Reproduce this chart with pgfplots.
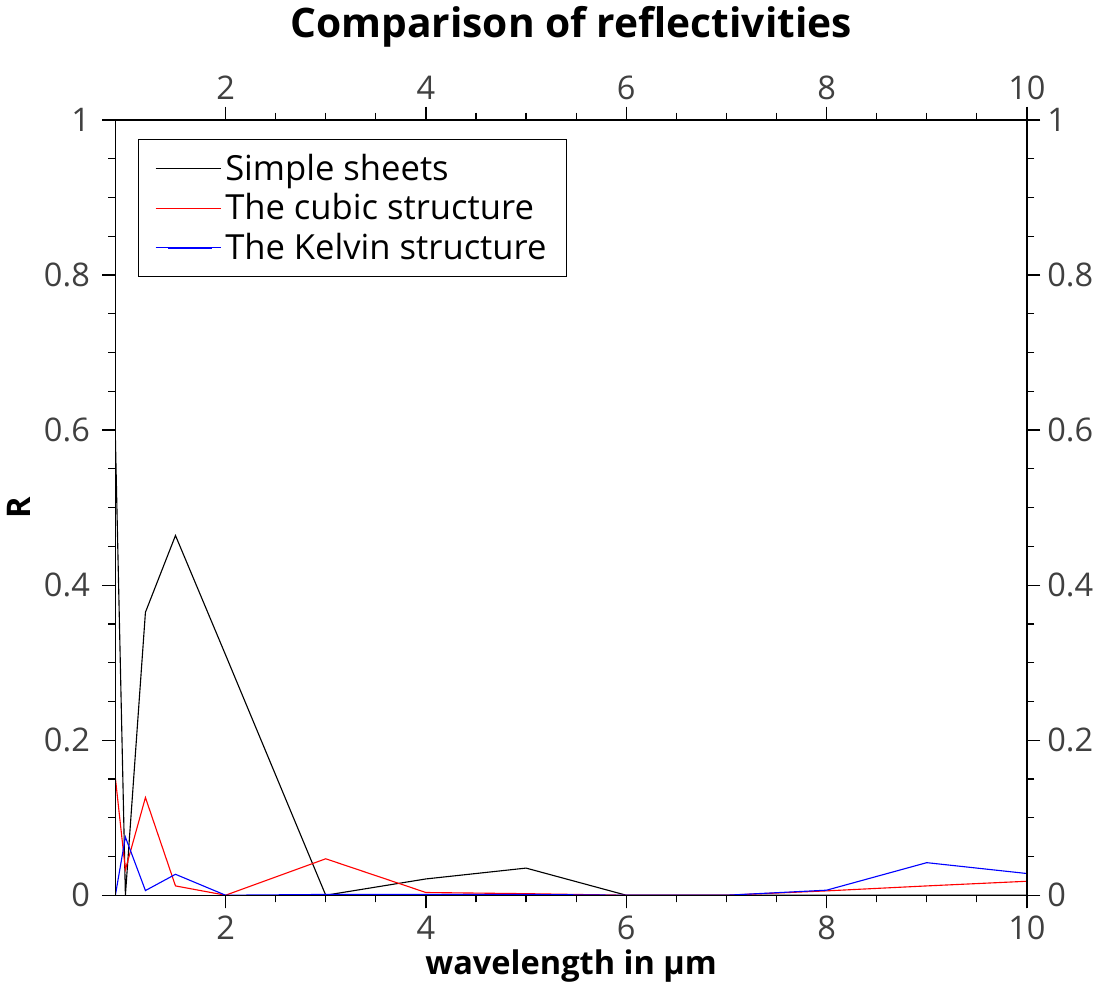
\documentclass[border=0pt]{standalone}
\usepackage{pgfplots}
\pgfplotsset{compat=1.18}
\usepackage{fontspec}
\setmainfont{Open Sans}
\definecolor{tickgray}{HTML}{404040}
\begin{document}
\begin{tikzpicture}
\pgfplotsset{
  common/.style={
    scale only axis, width=448pt, height=381pt,
    xmin=0.9, xmax=10, ymin=0, ymax=1,
    xtick={2,4,6,8,10}, ytick={0,0.2,0.4,0.6,0.8,1},
    minor x tick num=3, minor y tick num=3,
    tick align=outside,
    major tick length=6.5pt, minor tick length=3.5pt,
    tick style={black, line width=0.6pt},
    axis line style={line width=0.6pt},
    /pgf/number format/assume math mode=true,
    ticklabel style={font=\fontsize{16}{19}\selectfont, text=tickgray},
    yticklabel style={/pgf/number format/fixed},
  }
}
\begin{axis}[common,
  xticklabel pos=lower, yticklabel pos=left,
  yticklabel style={xshift=-2.5pt},
  xlabel={\textbf{wavelength in µm}},
  ylabel={\textbf{R}},
  xlabel style={font=\fontsize{16}{19}\selectfont, yshift=2pt},
  ylabel style={font=\fontsize{16}{19}\selectfont, yshift=0pt},
  legend style={at={(0.025,0.975)}, anchor=north west, draw=black, line width=0.5pt,
    font=\fontsize{17}{20}\selectfont, row sep=1pt, inner xsep=8pt, inner ysep=5pt},
  legend cell align=left,
  legend image code/.code={\path (-6pt,0pt) -- (26pt,0pt); \draw[#1, line width=0.7pt] (0pt,0pt) -- (22pt,0pt);},
]
\addplot[black, line width=0.55pt] coordinates {
(0.9,0.59) (1.0,0) (1.2,0.365) (1.5,0.464) (2,0.31) (3,0) (4,0.021) (5,0.035) (6,0) (7,0) (8,0) (9,0) (10,0)};
\addlegendentry{Simple sheets}
\addplot[red, line width=0.55pt] coordinates {
(0.9,0.151) (1.0,0.033) (1.2,0.126) (1.5,0.012) (2,0) (3,0.047) (4,0.0035) (5,0.002) (6,0) (7,0) (8,0.0056) (9,0.012) (10,0.018)};
\addlegendentry{The cubic structure}
\addplot[blue, line width=0.55pt] coordinates {
(0.9,0) (1.0,0.075) (1.2,0.006) (1.5,0.027) (2,0) (3,0.001) (4,0.001) (5,0.001) (6,0) (7,0) (8,0.0065) (9,0.042) (10,0.028)};
\addlegendentry{The Kelvin structure\hspace{8pt}}
\end{axis}
\begin{axis}[common,
  xticklabel pos=upper, yticklabel pos=right,
  title={\textbf{Comparison of reflectivities}},
  title style={font=\fontsize{20}{24}\selectfont, yshift=26pt},
]
\end{axis}
\end{tikzpicture}
\end{document}
